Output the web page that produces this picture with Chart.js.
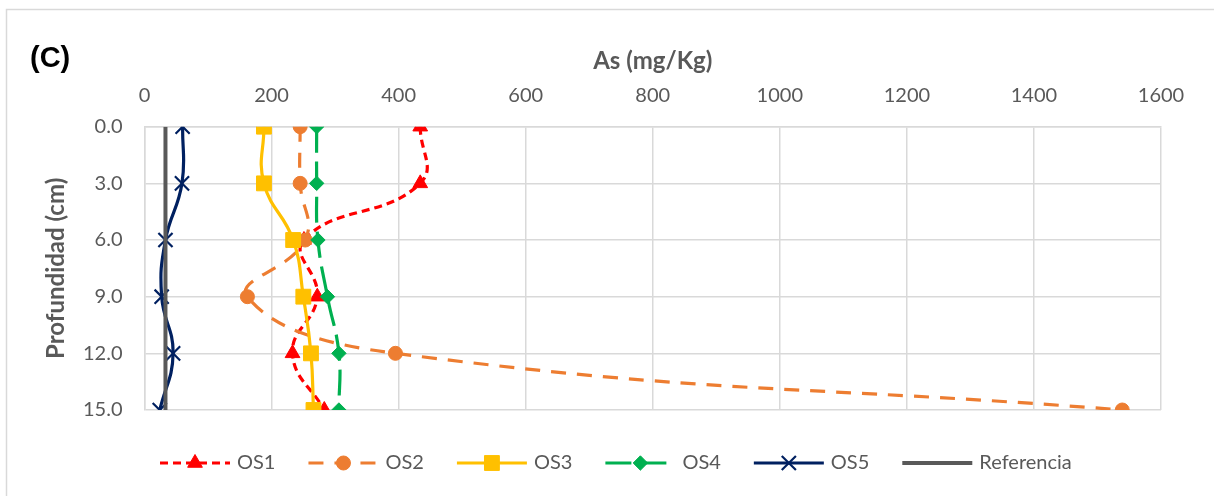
<!DOCTYPE html>
<html>
<head>
<meta charset="utf-8">
<script src="https://cdn.jsdelivr.net/npm/chart.js@4"></script>
<style>
  html, body { margin: 0; padding: 0; background: #fff; }
  #wrap { position: relative; width: 1214px; height: 496px; }
</style>
</head>
<body>
<div id="wrap"><canvas id="grafico" width="1214" height="496"></canvas></div>
<script>
// profundidad (cm) y concentraciones de As (mg/Kg) por muestra
const profundidad = [0, 3, 6, 9, 12, 15];
const os1 = [434, 434, 251, 272, 233, 283];
const os2 = [245, 245, 253, 162, 395, 1539];
const os3 = [188, 188, 234, 250, 262, 266];
const os4 = [271, 271, 273, 288, 306, 306];
const os5 = [60, 59, 33, 27, 45, 24];
const referencia = 33;
const ticksX = [0, 200, 400, 600, 800, 1000, 1200, 1400, 1600];
const ticksY = [0, 3, 6, 9, 12, 15];

const gris = '#595959';
const rejilla = '#d9d9d9';

function puntos(valores) {
  return valores.map((v, i) => ({ x: v, y: profundidad[i] }));
}

function serie(nombre, valores, color, forma, radio, guiones, orden) {
  return {
    label: nombre,
    data: puntos(valores),
    showLine: true,
    borderColor: color,
    backgroundColor: color,
    borderWidth: 3.2,
    borderDash: guiones,
    tension: 0.45,
    pointStyle: forma,
    pointRadius: radio,
    pointHoverRadius: radio,
    pointBackgroundColor: color,
    pointBorderColor: color,
    pointBorderWidth: forma === 'crossRot' ? 2.2 : 1,
    order: orden
  };
}

const datasets = [
  serie('OS1', os1, '#ff0000', 'triangle', 8.5, [8, 5], 10),
  serie('OS2', os2, '#ed7d31', 'circle', 7, [15, 11], 9),
  serie('OS3', os3, '#ffc000', 'rect', 10.5, [], 8),
  serie('OS4', os4, '#00b050', 'rectRot', 7.2, [26, 9], 7),
  serie('OS5', os5, '#002060', 'crossRot', 10, [], 6),
  {
    label: 'Referencia',
    data: [{ x: referencia, y: 0 }, { x: referencia, y: 15 }],
    showLine: true,
    borderColor: gris,
    backgroundColor: gris,
    borderWidth: 4,
    pointRadius: 0,
    pointStyle: false,
    order: 5
  }
];

// marco, etiqueta (C) y leyenda inferior con muestra de línea + marcador
const decoracion = {
  id: 'decoracion',
  beforeDraw(chart) {
    const ctx = chart.ctx;
    ctx.save();
    ctx.fillStyle = '#fff';
    ctx.fillRect(0, 0, chart.width, chart.height);
    ctx.strokeStyle = rejilla;
    ctx.lineWidth = 1.5;
    ctx.strokeRect(6.5, 9.5, chart.width + 20, chart.height + 20);
    ctx.restore();
  },
  afterDraw(chart) {
    const ctx = chart.ctx;
    ctx.save();
    ctx.fillStyle = '#000';
    ctx.font = 'bold 29px "Liberation Sans", Arial, sans-serif';
    ctx.textBaseline = 'middle';
    ctx.textAlign = 'left';
    ctx.fillText('(C)', 30, 59);

    let x = 160;
    const y = 463;
    ctx.font = '20px Lato, sans-serif';
    chart.data.datasets.forEach(ds => {
      ctx.save();
      ctx.strokeStyle = ds.borderColor;
      ctx.lineWidth = ds.borderWidth;
      ctx.setLineDash(ds.borderDash || []);
      ctx.beginPath();
      ctx.moveTo(x, y);
      ctx.lineTo(x + 70, y);
      ctx.stroke();
      ctx.restore();
      if (ds.pointStyle) {
        ctx.save();
        ctx.fillStyle = ds.pointBackgroundColor;
        ctx.strokeStyle = ds.pointBorderColor;
        ctx.lineWidth = ds.pointBorderWidth;
        Chart.helpers.drawPoint(ctx, { pointStyle: ds.pointStyle, radius: ds.pointRadius, rotation: 0, borderWidth: ds.pointBorderWidth }, x + 35, y);
        ctx.restore();
      }
      ctx.fillStyle = gris;
      ctx.textAlign = 'left';
      ctx.textBaseline = 'middle';
      ctx.fillText(ds.label, x + 77, y);
      x += 77 + ctx.measureText(ds.label).width + 33;
    });
    ctx.restore();
  }
};

new Chart(document.getElementById('grafico'), {
  type: 'scatter',
  data: { datasets: datasets },
  options: {
    responsive: false,
    animation: false,
    layout: { padding: { left: 0, top: 0, right: 53, bottom: 86 } },
    plugins: {
      legend: { display: false },
      tooltip: { enabled: false }
    },
    scales: {
      x: {
        type: 'linear',
        position: 'top',
        min: 0,
        max: 1600,
        afterBuildTicks: s => { s.ticks = ticksX.map(v => ({ value: v })); },
        afterFit: s => { s.height = 126.7; },
        ticks: {
          color: gris,
          font: { family: 'Lato', size: 20 },
          padding: 19,
          maxRotation: 0,
          callback: v => String(v)
        },
        grid: { color: rejilla, lineWidth: 1.5, drawTicks: false },
        border: { color: rejilla, width: 1.5 },
        title: {
          display: true,
          text: 'As (mg/Kg)',
          color: gris,
          font: { family: 'Lato', size: 24, weight: 'bold' },
          padding: { top: 47, bottom: 0 }
        }
      },
      y: {
        type: 'linear',
        reverse: true,
        min: 0,
        max: 15,
        afterBuildTicks: s => { s.ticks = ticksY.map(v => ({ value: v })); },
        afterFit: s => { s.width = 144.5; },
        ticks: {
          color: gris,
          font: { family: 'Lato', size: 20 },
          padding: 22,
          callback: v => Number(v).toFixed(1)
        },
        grid: { color: rejilla, lineWidth: 1.5, drawTicks: false },
        border: { color: rejilla, width: 1.5 },
        title: {
          display: true,
          text: 'Profundidad (cm)',
          color: gris,
          font: { family: 'Lato', size: 24, weight: 'bold' },
          padding: { top: 42, bottom: 0 }
        }
      }
    }
  },
  plugins: [decoracion]
});
</script>
</body>
</html>
